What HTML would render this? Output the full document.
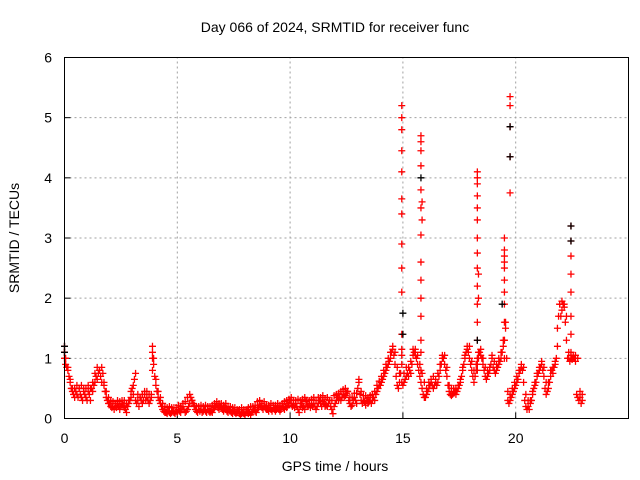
<!DOCTYPE html>
<html><head><meta charset="utf-8"><style>
body{margin:0;background:#fff}
svg{display:block;font-family:"Liberation Sans",sans-serif}
</style></head><body>
<svg id="chart" width="640" height="480" viewBox="0 0 640 480">
<rect width="640" height="480" fill="#fff"/>
<text x="335" y="32" font-size="14" text-anchor="middle">Day 066 of 2024, SRMTID for receiver func</text>
<g id="grid"></g>
<g id="axes"></g>
<g id="marks"></g>
<rect x="64.5" y="57.5" width="564" height="361" fill="none" stroke="#000" stroke-width="1"/>
<text x="335" y="471" font-size="14" text-anchor="middle">GPS time / hours</text>
<text transform="translate(19,238) rotate(-90)" font-size="14" text-anchor="middle">SRMTID / TECUs</text>
</svg>
<script>
const xTicks=[0,5,10,15,20];
const yTicks=[0,1,2,3,4,5,6];
const baseStart=0, baseStep=0.05;
const baseValues=[
1.1,0.9,0.85,0.8,0.7,0.6,0.5,0.45,0.4,0.35,0.45,0.4,0.35,0.5,0.4,0.35,0.3,0.45,0.4,0.35,
0.3,0.45,0.4,0.3,0.5,0.45,0.55,0.6,0.7,0.65,0.75,0.8,0.7,0.6,0.75,0.55,0.45,0.35,0.3,0.25,
0.25,0.2,0.18,0.2,0.15,0.2,0.18,0.22,0.2,0.15,0.2,0.25,0.22,0.18,0.15,0.1,0.2,0.25,0.3,0.35,
0.5,0.4,0.65,0.3,0.25,0.3,0.2,0.35,0.3,0.25,0.3,0.4,0.3,0.35,0.3,0.25,0.3,0.35,1.1,0.9,
0.7,0.55,0.45,0.35,0.3,0.25,0.2,0.15,0.12,0.1,0.1,0.08,0.12,0.1,0.08,0.1,0.12,0.1,0.08,0.12,
0.1,0.15,0.12,0.1,0.15,0.2,0.15,0.1,0.12,0.15,0.2,0.25,0.35,0.3,0.25,0.2,0.15,0.12,0.1,0.15,
0.12,0.15,0.1,0.12,0.15,0.12,0.1,0.15,0.12,0.1,0.12,0.1,0.15,0.18,0.2,0.22,0.18,0.15,0.2,0.18,
0.15,0.12,0.18,0.15,0.12,0.1,0.15,0.12,0.1,0.08,0.12,0.1,0.08,0.1,0.12,0.08,0.05,0.08,0.1,0.08,
0.05,0.1,0.12,0.08,0.1,0.06,0.1,0.12,0.15,0.12,0.1,0.15,0.18,0.22,0.2,0.18,0.15,0.2,0.18,0.15,
0.15,0.12,0.18,0.15,0.12,0.18,0.15,0.12,0.15,0.18,0.15,0.12,0.15,0.2,0.18,0.15,0.2,0.18,0.22,0.25,
0.3,0.25,0.2,0.22,0.18,0.25,0.2,0.15,0.1,0.2,0.25,0.18,0.2,0.15,0.28,0.22,0.2,0.25,0.18,0.22,
0.2,0.25,0.2,0.15,0.2,0.25,0.3,0.25,0.2,0.28,0.25,0.2,0.22,0.2,0.25,0.3,0.2,0.15,0.08,0.2,
0.25,0.3,0.35,0.3,0.35,0.3,0.35,0.4,0.35,0.38,0.42,0.45,0.3,0.25,0.2,0.22,0.3,0.35,0.3,0.25,
0.5,0.6,0.4,0.3,0.25,0.3,0.28,0.22,0.3,0.25,0.28,0.3,0.25,0.3,0.35,0.3,0.4,0.45,0.5,0.55,
0.55,0.6,0.65,0.7,0.75,0.8,0.85,0.9,0.95,1.0,1.1,1.15,1.05,0.9,0.7,0.55,0.5,0.6,0.75,1.05,
0.55,0.6,0.65,0.7,0.75,0.7,0.8,0.75,0.9,1.05,1.1,1.05,1.0,0.9,0.8,0.7,0.6,0.5,0.4,0.35,
0.35,0.4,0.45,0.5,0.55,0.6,0.55,0.5,0.55,0.6,0.55,0.6,0.7,0.8,0.9,1.0,1.0,0.9,0.8,0.7,
0.55,0.45,0.4,0.38,0.4,0.42,0.45,0.4,0.45,0.5,0.55,0.6,0.7,0.8,0.9,1.0,1.1,1.15,1.1,1.0,
0.9,0.8,0.7,0.6,0.7,0.8,0.9,1.0,1.1,1.05,1.0,0.9,0.8,0.7,0.65,0.7,0.75,0.8,0.9,1.0,
0.85,0.8,0.75,0.8,0.85,0.9,0.95,1.0,1.1,1.2,1.3,1.5,1.0,0.3,0.25,0.3,0.35,0.4,0.45,0.5,
0.55,0.6,0.65,0.75,0.8,0.85,0.8,0.6,0.3,0.2,0.15,0.2,0.15,0.25,0.3,0.4,0.5,0.55,0.6,0.7,
0.75,0.8,0.85,0.9,0.8,0.7,0.5,0.4,0.45,0.5,0.6,0.7,0.8,0.75,0.85,0.9,1.0,1.5,1.7,1.9,
1.7,1.8,1.9,1.85,1.6,1.3,1.0,1.0,0.95,1.0,0.98,1.0,1.0,0.95,0.4,0.35,0.3,0.35,0.25,0.3
];
const upperStart=0.05, upperStep=0.1;
const upperValues=[
1.0,0.85,0.65,0.5,0.5,0.55,0.5,0.55,0.5,0.5,
0.55,0.5,0.6,0.75,0.85,0.8,0.85,0.6,0.45,0.35,
0.3,0.28,0.25,0.3,0.28,0.3,0.3,0.25,0.3,0.45,
0.55,0.75,0.4,0.35,0.4,0.45,0.45,0.4,0.4,1.0,
0.65,0.45,0.35,0.25,0.2,0.18,0.2,0.18,0.18,0.18,
0.22,0.2,0.25,0.28,0.35,0.4,0.3,0.22,0.2,0.2,
0.22,0.2,0.22,0.2,0.2,0.22,0.25,0.28,0.25,0.25,
0.22,0.25,0.2,0.2,0.18,0.18,0.15,0.15,0.18,0.15,
0.15,0.18,0.2,0.2,0.22,0.28,0.3,0.25,0.28,0.22,
0.22,0.25,0.22,0.22,0.25,0.22,0.25,0.28,0.3,0.32,
0.35,0.3,0.3,0.32,0.3,0.32,0.35,0.3,0.3,0.32,
0.35,0.3,0.35,0.35,0.38,0.32,0.35,0.3,0.3,0.38,
0.4,0.42,0.45,0.48,0.5,0.45,0.35,0.35,0.42,0.42,
0.65,0.45,0.38,0.38,0.35,0.38,0.4,0.45,0.55,0.62,
0.7,0.8,0.9,1.0,1.1,1.2,1.1,0.85,0.75,1.15,
0.75,0.85,0.85,0.95,1.15,1.15,1.05,0.9,0.75,0.6,
0.5,0.6,0.65,0.7,0.65,0.75,0.9,1.05,1.05,0.85,
0.55,0.5,0.5,0.5,0.55,0.65,0.85,1.05,1.2,1.2,
0.95,0.8,0.9,1.1,1.15,1.0,0.85,0.8,0.85,1.05,
0.95,0.9,1.0,1.1,1.3,1.6,0.45,0.4,0.5,0.6,
0.7,0.8,0.9,0.85,0.4,0.3,0.3,0.45,0.6,0.75,
0.85,0.95,0.85,0.6,0.6,0.8,0.85,0.95,1.2,1.9,
1.95,1.9,1.7,1.1,1.05,1.05,1.05,1.0,0.45,0.4
];
const spikeTimes=[0,0,0,3.9,3.9,3.9,
14.95,14.95,14.95,14.95,14.95,14.95,14.95,14.95,14.95,14.95,14.95,14.95,14.95,
15.8,15.8,15.8,15.8,15.8,15.8,15.8,15.8,15.8,15.8,15.8,15.8,15.8,15.8,15.85,15.85,
18.3,18.3,18.3,18.3,18.3,18.3,18.3,18.3,18.3,18.3,18.3,18.3,18.3,18.3,18.3,18.35,18.35,
19.5,19.5,19.5,19.5,19.5,19.5,19.5,19.5,19.5,19.5,19.5,19.75,19.75,19.75,19.75,19.75,
22.45,22.45,22.45,22.45,22.45,22.45,22.45,22.45];
const spikeValues=[1.0,1.1,1.2,0.8,1.0,1.2,
0.6,0.9,1.4,2.1,2.5,2.9,3.4,3.65,4.1,4.45,4.8,5.0,5.2,
0.8,1.1,1.3,1.7,2.0,2.3,2.6,3.05,3.5,3.8,4.2,4.45,4.6,4.7,3.3,3.6,
0.8,1.0,1.3,1.6,1.9,2.2,2.5,2.75,3.0,3.3,3.5,3.7,3.9,4.0,4.1,2.0,2.4,
1.0,1.3,1.6,1.9,2.1,2.3,2.5,2.6,2.7,2.8,3.0,3.75,4.35,4.85,5.2,5.35,
1.1,1.4,1.7,2.1,2.4,2.7,2.95,3.2];
const blackTimes=[0,0,15.0,15.0,15.8,19.75,19.75,22.45,22.45,19.4,18.3];
const blackValues=[1.2,1.1,1.4,1.75,4.0,4.85,4.35,2.95,3.2,1.9,1.3];

const NS="http://www.w3.org/2000/svg";
const X0=64.5,X1=628.5,Y0=418.5,Y1=57.5,XMAX=25,YMAX=6;
function xs(t){return X0+(X1-X0)*t/XMAX;}
function ys(v){return Y0-(Y0-Y1)*v/YMAX;}
const grid=document.getElementById('grid'),axes=document.getElementById('axes'),marks=document.getElementById('marks');
function mk(tag,attrs,parent){const e=document.createElementNS(NS,tag);for(const k in attrs)e.setAttribute(k,attrs[k]);parent.appendChild(e);return e;}
xTicks.forEach(t=>{
  const x=xs(t);
  if(t>0){const g=mk('line',{x1:x,x2:x,y1:Y0,y2:Y1,stroke:'#a0a0a0','stroke-dasharray':'2,3'},grid);
  
  }
  const tk=mk('line',{x1:x,x2:x,y1:Y0,y2:Y0-6,stroke:'#000'},axes);
  
  
  const l=mk('text',{x:x,y:443,'font-size':14,'text-anchor':'middle'},axes);l.textContent=t;
  
  
});
yTicks.forEach(v=>{
  const y=ys(v);
  if(v>0&&v<6){const g=mk('line',{x1:X0,x2:X1,y1:y,y2:y,stroke:'#a0a0a0','stroke-dasharray':'2,3'},grid);
  
  }
  const tk=mk('line',{x1:X0,x2:X0+6,y1:y,y2:y,stroke:'#000'},axes);
  
  
  const l=mk('text',{x:52,y:y+5,'font-size':14,'text-anchor':'end'},axes);l.textContent=v;
  
  
});
function plus(t,v,color){
  const x=xs(t),y=ys(v);
  const p=mk('path',{d:`M${x-3.5},${y}h7M${x},${y-3.5}v7`,stroke:color,'stroke-width':1.3,fill:'none'},marks);
  
  
}
baseValues.forEach((v,i)=>plus(baseStart+i*baseStep,v,'#ff0000'));
upperValues.forEach((v,i)=>plus(upperStart+i*upperStep,v,'#ff0000'));
spikeTimes.forEach((t,i)=>plus(t,spikeValues[i],'#ff0000'));
blackTimes.forEach((t,i)=>plus(t,blackValues[i],'#000000'));
</script>
</body></html>
